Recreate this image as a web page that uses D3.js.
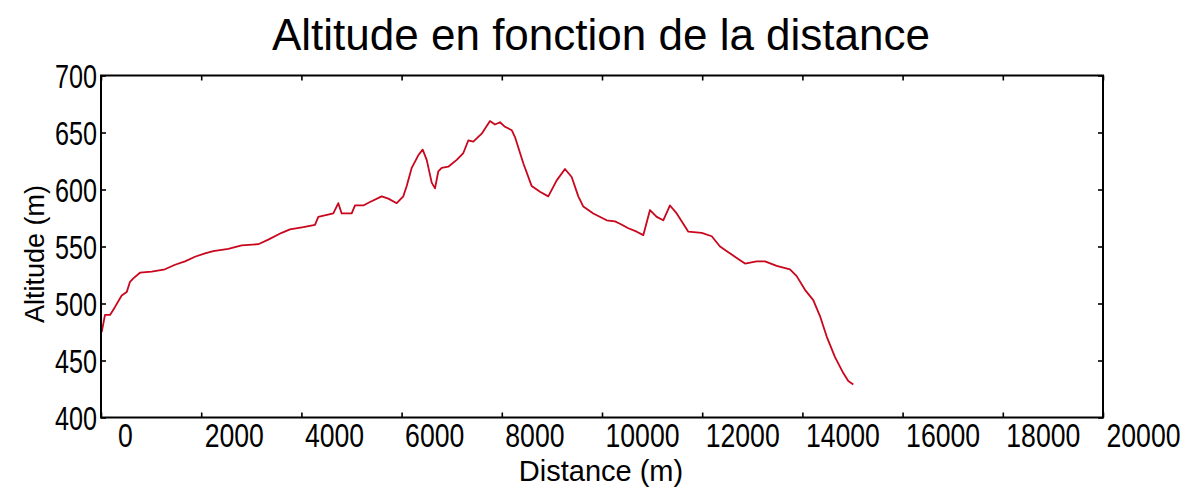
<!DOCTYPE html>
<html>
<head>
<meta charset="utf-8">
<script src="https://cdn.jsdelivr.net/npm/d3@7"></script>
<style>
  html, body { margin: 0; padding: 0; background: #fff; }
  svg { display: block; }
</style>
</head>
<body>
<svg id="chart" width="1200" height="497"></svg>
<script>
// ---- data ----
const distances = [14, 80, 180, 280, 413, 513, 579, 645, 778, 1012, 1277, 1477, 1677, 1876, 2076, 2242, 2541, 2808, 3140, 3339, 3607, 3772, 4038, 4271, 4337, 4637, 4737, 4804, 5004, 5070, 5236, 5369, 5603, 5735, 5902, 6034, 6102, 6202, 6333, 6421, 6501, 6601, 6667, 6733, 6800, 6932, 7100, 7232, 7331, 7431, 7599, 7764, 7864, 7964, 8064, 8198, 8263, 8429, 8597, 8762, 8928, 9096, 9261, 9395, 9527, 9627, 9826, 10094, 10259, 10359, 10525, 10693, 10825, 10958, 11092, 11223, 11357, 11491, 11723, 11990, 12190, 12356, 12521, 12689, 12854, 13088, 13253, 13487, 13752, 13886, 14052, 14217, 14351, 14485, 14651, 14816, 14916, 15016];
const altitudes = [475, 490, 490, 497, 507, 510, 519, 522, 527, 528, 530, 534, 537, 541, 544, 546, 548, 551, 552, 556, 562, 565, 567, 569, 576, 579, 588, 579, 579, 586, 586, 589, 594, 592, 588, 594, 603, 619, 630, 635, 626, 606, 601, 616, 619, 620, 626, 632, 643, 642, 649, 660, 657, 659, 655, 652, 646, 623, 603, 598, 594, 608, 618, 611, 594, 585, 579, 573, 572, 570, 566, 563, 560, 582, 576, 573, 586, 579, 563, 562, 559, 550, 545, 540, 535, 537, 537, 533, 530, 524, 512, 503, 489, 471, 453, 439, 432, 429];
const xTicks = [0, 2000, 4000, 6000, 8000, 10000, 12000, 14000, 16000, 18000, 20000];
const yTicks = [400, 450, 500, 550, 600, 650, 700];
const titleText = "Altitude en fonction de la distance";
const xLabel = "Distance (m)";
const yLabel = "Altitude (m)";

// ---- drawing ----
const svg = d3.select("#chart");
const mLeft = 101, mRight = 1103, mTop = 75.5, mBottom = 417.5;
const x = d3.scaleLinear().domain([0, 20000]).range([mLeft, mRight]);
const y = d3.scaleLinear().domain([400, 700]).range([mBottom, mTop]);

const regular = "'Liberation Sans', Arial, sans-serif";
const digitW = 14.8; // condensed tick-label digits

// title
svg.append("text")
  .attr("x", 601).attr("y", 50)
  .attr("text-anchor", "middle")
  .attr("font-family", regular)
  .attr("font-size", 44)
  .attr("fill", "#000")
  .text(titleText);

// data line
const line = d3.line().x((d, i) => x(distances[i])).y(d => y(d));
svg.append("path")
  .datum(altitudes)
  .attr("d", line)
  .attr("fill", "none")
  .attr("stroke", "#c8061c")
  .attr("stroke-width", 1.8)
  .attr("stroke-linejoin", "round");

// axes (ticks inward on all sides)
const gBottom = svg.append("g").attr("transform", `translate(0,${mBottom})`)
  .call(d3.axisBottom(x).tickValues(xTicks).tickSizeInner(-5).tickSizeOuter(0).tickFormat(d3.format("d")));
const gTop = svg.append("g").attr("transform", `translate(0,${mTop})`)
  .call(d3.axisTop(x).tickValues(xTicks).tickSizeInner(-5).tickSizeOuter(0).tickFormat(""));
const gLeft = svg.append("g").attr("transform", `translate(${mLeft},0)`)
  .call(d3.axisLeft(y).tickValues(yTicks).tickSizeInner(-5).tickSizeOuter(0).tickFormat(d3.format("d")));
const gRight = svg.append("g").attr("transform", `translate(${mRight},0)`)
  .call(d3.axisRight(y).tickValues(yTicks).tickSizeInner(-5).tickSizeOuter(0).tickFormat(""));

[gBottom, gTop, gLeft, gRight].forEach(g => {
  g.select(".domain").remove();
  g.selectAll(".tick line").attr("stroke", "#000").attr("stroke-width", 1.6);
});

gBottom.selectAll(".tick text")
  .attr("font-family", regular)
  .attr("font-size", 33)
  .attr("fill", "#000")
  .attr("dy", null)
  .attr("y", 29.5)
  .attr("text-anchor", d => d === 0 ? "middle" : "start")
  .attr("x", d => d === 0 ? 24 : 3)
  .attr("textLength", d => String(d).length * digitW)
  .attr("lengthAdjust", "spacingAndGlyphs");

gLeft.selectAll(".tick text")
  .attr("font-family", regular)
  .attr("font-size", 33)
  .attr("fill", "#000")
  .attr("x", -4)
  .attr("dy", "0.36em")
  .attr("textLength", d => String(d).length * 14)
  .attr("lengthAdjust", "spacingAndGlyphs");

// frame
svg.append("rect")
  .attr("x", mLeft).attr("y", mTop)
  .attr("width", mRight - mLeft).attr("height", mBottom - mTop)
  .attr("fill", "none").attr("stroke", "#000").attr("stroke-width", 2);

// axis titles
svg.append("text")
  .attr("x", 601).attr("y", 481)
  .attr("text-anchor", "middle")
  .attr("font-family", regular)
  .attr("font-size", 29)
  .attr("fill", "#000")
  .text(xLabel);

svg.append("text")
  .attr("transform", "translate(44,254) rotate(-90)")
  .attr("text-anchor", "middle")
  .attr("font-family", regular)
  .attr("font-size", 27)
  .attr("fill", "#000")
  .text(yLabel);
</script>
</body>
</html>
